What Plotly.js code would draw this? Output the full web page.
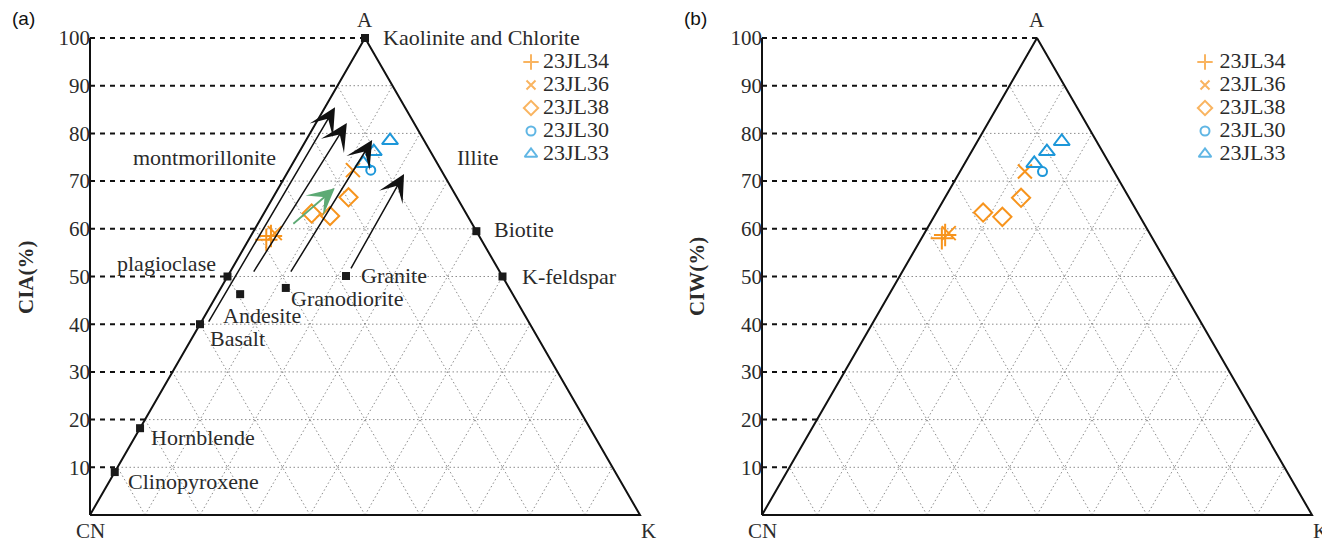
<!DOCTYPE html>
<html>
<head>
<meta charset="utf-8">
<script src="https://cdn.plot.ly/plotly-3.0.1.min.js"></script>
<style>html,body{margin:0;padding:0;background:#fff;}#chart{width:1322px;height:543px;}</style>
</head>
<body>
<div id="chart"></div>
<script>
// ---------------- DATA ----------------
const ticks = [10, 20, 30, 40, 50, 60, 70, 80, 90, 100];
const gridSteps = [10, 20, 30, 40, 50, 60, 70, 80, 90];

const sampleNames = ['23JL34', '23JL36', '23JL38', '23JL30', '23JL33'];

// panel (a): CIA (= A %) and K %
const cia_23JL34 = [57.7, 58.5];        const kA_23JL34 = [3.2, 3.65];
const cia_23JL36 = [59.1, 72.3];        const kA_23JL36 = [4.05, 11.65];
const cia_23JL38 = [63.2, 62.7, 66.6];  const kA_23JL38 = [8.7, 12.3, 13.7];
const cia_23JL30 = [72.3];              const kA_23JL30 = [14.9];
const cia_23JL33 = [73.7, 76.2, 78.5];  const kA_23JL33 = [12.85, 13.5, 15.3];

// panel (b): CIW (= A %) and K %
const ciw_23JL34 = [58.0, 58.7];        const kB_23JL34 = [3.7, 3.95];
const ciw_23JL36 = [59.1, 72.0];        const kB_23JL36 = [4.4, 11.8];
const ciw_23JL38 = [63.4, 62.5, 66.5];  const kB_23JL38 = [8.5, 12.45, 13.85];
const ciw_23JL30 = [72.0];              const kB_23JL30 = [15.0];
const ciw_23JL33 = [73.7, 76.2, 78.3];  const kB_23JL33 = [12.65, 13.7, 15.35];

// reference minerals / rocks (A %, K %)
const mineralNames = ['Kaolinite and Chlorite', 'Biotite', 'K-feldspar', 'plagioclase', 'Basalt',
                      'Andesite', 'Granodiorite', 'Granite', 'Hornblende', 'Clinopyroxene'];
const mineralA = [100, 59.5, 50, 50, 40, 46.3, 47.6, 50.1, 18.2, 9];
const mineralK = [0, 40.5, 50, 0, 0, 4.15, 11.8, 21.5, 0, 0];

// clay labels without symbol
const clayNames = ['montmorillonite', 'Illite'];
const clayA = [75, 75];
const clayK = [0, 25];

// weathering trends (start -> end), A % and K %
const trendStartA = [40.25, 50.7, 50.7, 51.4];
const trendStartK = [1.3, 4.25, 11.0, 21.6];
const trendEndA   = [85.5, 82.2, 78.6, 71.5];
const trendEndK   = [1.8, 5.6, 12.0, 21.35];
const sampleTrendStartA = [60.8]; const sampleTrendStartK = [6.3];
const sampleTrendEndA   = [68.5]; const sampleTrendEndK   = [10.25];

// ---------------- LAYOUT CONSTANTS ----------------
const W = 1322, H = 543;
const ppuX = 5.5, ppuY = 4.77;
const baseY = 515;
const leftA = 90, leftB = 762;
const xr = [-2, 101.5], yr = [-2, 102];
function xDom(left) { return [(left + xr[0] * ppuX) / W, (left + xr[1] * ppuX) / W]; }
const yDom = [(H - (baseY - yr[0] * ppuY)) / H, (H - (baseY - yr[1] * ppuY)) / H];

const ORANGE = '#F7941D', BLUE = '#1D97D9', INK = '#111', TXT = '#2b2b2b';
const SERIF = '"Times New Roman", "Liberation Serif", Times, serif';
const LABEL_SIZE = 22;

const seriesStyle = [
  {symbol: 'cross-thin-open', size: 16, color: ORANGE, lsize: 11},
  {symbol: 'x-thin-open', size: 14, color: ORANGE, lsize: 9},
  {symbol: 'diamond-open', size: 14, color: ORANGE, lsize: 11},
  {symbol: 'circle-open', size: 9, color: BLUE, lsize: 9},
  {symbol: 'triangle-up-open', size: 14, color: BLUE, lsize: 11}
];

const tx = (a, k) => k + a / 2;   // ternary -> horizontal position

const traces = [];

function panel(xa, ya) {
  const gx = [], gy = [];
  gridSteps.forEach(v => {
    gx.push(v / 2, 100 - v / 2, null); gy.push(v, v, null);            // constant A
    gx.push(v, 50 + v / 2, null);      gy.push(0, 100 - v, null);      // constant K
    gx.push(100 - v, (100 - v) / 2, null); gy.push(0, 100 - v, null);  // constant CN
  });
  traces.push({x: gx, y: gy, xaxis: xa, yaxis: ya, mode: 'lines', hoverinfo: 'skip', showlegend: false,
    line: {color: '#8c8c8c', width: 1, dash: '1.5px,2.5px'}});
  const dx = [], dy = [];
  ticks.forEach(v => { dx.push(0, tx(v, 0), null); dy.push(v, v, null); });
  traces.push({x: dx, y: dy, xaxis: xa, yaxis: ya, mode: 'lines', hoverinfo: 'skip', showlegend: false,
    line: {color: INK, width: 2, dash: '5px,5px'}});
  traces.push({x: [tx(0, 0), tx(100, 0), tx(0, 100), tx(0, 0)], y: [0, 100, 0, 0], xaxis: xa, yaxis: ya,
    mode: 'lines', hoverinfo: 'skip', showlegend: false, line: {color: INK, width: 2}});
  traces.push({x: [0, 0], y: [0, 100], xaxis: xa, yaxis: ya, mode: 'lines', hoverinfo: 'skip',
    showlegend: false, line: {color: INK, width: 2}});
}

panel('x', 'y');
panel('x2', 'y2');

traces.push({x: mineralA.map((a, i) => tx(a, mineralK[i])), y: mineralA, xaxis: 'x', yaxis: 'y',
  mode: 'markers', showlegend: false, cliponaxis: false, text: mineralNames, hoverinfo: 'text',
  marker: {symbol: 'square', size: 8, color: '#1a1a1a'}});

const dataA = [[cia_23JL34, kA_23JL34], [cia_23JL36, kA_23JL36], [cia_23JL38, kA_23JL38], [cia_23JL30, kA_23JL30], [cia_23JL33, kA_23JL33]];
const dataB = [[ciw_23JL34, kB_23JL34], [ciw_23JL36, kB_23JL36], [ciw_23JL38, kB_23JL38], [ciw_23JL30, kB_23JL30], [ciw_23JL33, kB_23JL33]];

function samples(data, xa, ya) {
  data.forEach((d, i) => {
    const s = seriesStyle[i];
    traces.push({x: d[0].map((a, j) => tx(a, d[1][j])), y: d[0], xaxis: xa, yaxis: ya, name: sampleNames[i],
      mode: 'markers', showlegend: false, cliponaxis: false,
      marker: {symbol: s.symbol, size: s.size, color: s.color, line: {color: s.color, width: 2}}});
  });
}
samples(dataA, 'x', 'y');
samples(dataB, 'x2', 'y2');

// custom legends (symbol column + text column)
function legend(xa, ya, textOffset) {
  traces.push({x: sampleNames.map(() => 0), y: sampleNames.map((n, i) => i), xaxis: xa, yaxis: ya,
    mode: 'markers', showlegend: false, cliponaxis: false, hoverinfo: 'skip',
    marker: {symbol: seriesStyle.map(s => s.symbol), size: seriesStyle.map(s => s.lsize),
      color: seriesStyle.map(s => s.color), line: {color: seriesStyle.map(s => s.color), width: 2}}});
  traces.push({x: sampleNames.map(() => textOffset), y: sampleNames.map((n, i) => i), xaxis: xa, yaxis: ya,
    mode: 'text', text: sampleNames, textposition: 'middle right', showlegend: false, cliponaxis: false,
    hoverinfo: 'skip', textfont: {family: SERIF, size: 22, color: TXT}});
}
legend('x3', 'y3', 1.0);
legend('x4', 'y4', 1.25);

// ---------------- ANNOTATIONS ----------------
const ann = [];
const labelPos = {
  'Kaolinite and Chlorite': {xanchor: 'left', xshift: 16, yshift: 1},
  'Biotite': {xanchor: 'left', xshift: 16, yshift: 2},
  'K-feldspar': {xanchor: 'left', xshift: 17, yshift: 0},
  'plagioclase': {xanchor: 'right', xshift: -10, yshift: 13},
  'Basalt': {xanchor: 'left', xshift: 8, yshift: -14},
  'Andesite': {xanchor: 'left', xshift: -19, yshift: -21},
  'Granodiorite': {xanchor: 'left', xshift: 3, yshift: -11},
  'Granite': {xanchor: 'left', xshift: 13, yshift: 1},
  'Hornblende': {xanchor: 'left', xshift: 9, yshift: -9},
  'Clinopyroxene': {xanchor: 'left', xshift: 11, yshift: -9},
  'montmorillonite': {xanchor: 'right', xshift: -18, yshift: 0},
  'Illite': {xanchor: 'left', xshift: 21, yshift: 0}
};
function label(name, a, k) {
  const p = labelPos[name];
  ann.push({xref: 'x', yref: 'y', x: tx(a, k), y: a, text: name, showarrow: false,
    xanchor: p.xanchor, yanchor: 'middle', xshift: p.xshift, yshift: p.yshift,
    font: {family: SERIF, size: LABEL_SIZE, color: TXT}});
}
mineralNames.forEach((n, i) => label(n, mineralA[i], mineralK[i]));
clayNames.forEach((n, i) => label(n, clayA[i], clayK[i]));

[['x', 'y'], ['x2', 'y2']].forEach(([xa, ya]) => {
  ann.push({xref: xa, yref: ya, x: tx(100, 0), y: 100, text: 'A', showarrow: false, yshift: 18,
    font: {family: SERIF, size: 21, color: TXT}});
  ann.push({xref: xa, yref: ya, x: tx(0, 0), y: 0, text: 'CN', showarrow: false, yshift: -16,
    font: {family: SERIF, size: 21, color: TXT}});
  ann.push({xref: xa, yref: ya, x: tx(0, 100), y: 0, text: 'K', showarrow: false, xshift: 8, yshift: -16,
    font: {family: SERIF, size: 21, color: TXT}});
});

trendStartA.forEach((a, i) => {
  ann.push({xref: 'x', yref: 'y', axref: 'x', ayref: 'y',
    x: tx(trendEndA[i], trendEndK[i]), y: trendEndA[i], ax: tx(a, trendStartK[i]), ay: a,
    text: '', showarrow: true, arrowhead: 3, arrowsize: 3.0, arrowwidth: 1.5, arrowcolor: INK, standoff: 0});
});
sampleTrendStartA.forEach((a, i) => {
  ann.push({xref: 'x', yref: 'y', axref: 'x', ayref: 'y',
    x: tx(sampleTrendEndA[i], sampleTrendEndK[i]), y: sampleTrendEndA[i], ax: tx(a, sampleTrendStartK[i]), ay: a,
    text: '', showarrow: true, arrowhead: 3, arrowsize: 2.5, arrowwidth: 1.8, arrowcolor: '#5DAA74', standoff: 0});
});

ann.push({xref: 'paper', yref: 'paper', x: 10 / W, y: 1 - 18 / H, xanchor: 'left', yanchor: 'middle',
  text: '(a)', showarrow: false, font: {family: 'Liberation Sans, Arial, sans-serif', size: 19, color: '#111'}});
ann.push({xref: 'paper', yref: 'paper', x: 682 / W, y: 1 - 18 / H, xanchor: 'left', yanchor: 'middle',
  text: '(b)', showarrow: false, font: {family: 'Liberation Sans, Arial, sans-serif', size: 19, color: '#111'}});
ann.push({xref: 'paper', yref: 'paper', x: 26 / W, y: 1 - 277 / H, xanchor: 'center', yanchor: 'middle',
  text: '<b>CIA(%)</b>', textangle: -90, showarrow: false, font: {family: SERIF, size: 21, color: TXT}});
ann.push({xref: 'paper', yref: 'paper', x: 697 / W, y: 1 - 277 / H, xanchor: 'center', yanchor: 'middle',
  text: '<b>CIW(%)</b>', textangle: -90, showarrow: false, font: {family: SERIF, size: 21, color: TXT}});

// ---------------- AXES ----------------
const yAxisBase = {
  range: yr, domain: yDom, tickvals: ticks, ticktext: ticks.map(String), showline: false, showgrid: false,
  zeroline: false, ticks: '', automargin: false, fixedrange: true,
  tickfont: {family: SERIF, size: 21, color: TXT}
};
const xAxisBase = {range: xr, visible: false, showgrid: false, zeroline: false, fixedrange: true};
const legTop = 1 - 50.5 / H, legBot = 1 - 165.5 / H;

const layout = {
  width: W, height: H, autosize: false,
  font: {family: SERIF, size: 21, color: TXT},
  margin: {l: 0, r: 0, t: 0, b: 0, pad: 0},
  paper_bgcolor: '#fff', plot_bgcolor: 'rgba(0,0,0,0)',
  showlegend: false,
  xaxis: Object.assign({}, xAxisBase, {domain: xDom(leftA), anchor: 'y'}),
  yaxis: Object.assign({}, yAxisBase, {anchor: 'free', position: leftA / W}),
  xaxis2: Object.assign({}, xAxisBase, {domain: xDom(leftB), anchor: 'y2'}),
  yaxis2: Object.assign({}, yAxisBase, {anchor: 'free', position: leftB / W}),
  xaxis3: {domain: [531 / W, 651 / W], range: [0, 10], visible: false, anchor: 'y3', fixedrange: true},
  yaxis3: {domain: [legBot, legTop], range: [4.5, -0.5], visible: false, anchor: 'x3', fixedrange: true},
  xaxis4: {domain: [1205 / W, 1321 / W], range: [0, 10], visible: false, anchor: 'y4', fixedrange: true},
  yaxis4: {domain: [legBot, legTop], range: [4.5, -0.5], visible: false, anchor: 'x4', fixedrange: true},
  annotations: ann
};

Plotly.newPlot('chart', traces, layout, {displayModeBar: false, staticPlot: true});
</script>
</body>
</html>
